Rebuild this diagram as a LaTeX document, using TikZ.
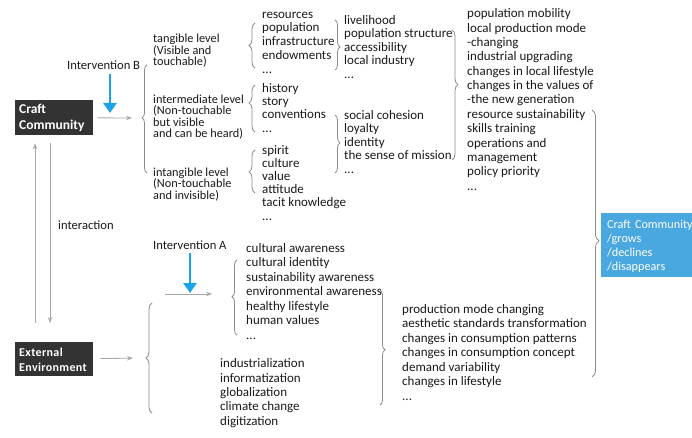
\documentclass[tikz,border=0pt]{standalone}
\usepackage{fontspec}
\setmainfont{Carlito}
\usetikzlibrary{arrows.meta,decorations.pathreplacing}
\definecolor{gline}{HTML}{A8A8A8}
\definecolor{gbrace}{HTML}{8C8C8C}
\definecolor{dbox}{HTML}{333333}
\definecolor{bluea}{HTML}{1AA3E6}
\definecolor{blueb}{HTML}{4AA8E0}
\definecolor{txt}{HTML}{1A1A1A}
\newcommand{\T}{\rule{0pt}{10pt}}
\newcommand{\LT}{\rule{0pt}{9pt}}
\begin{document}
\begin{tikzpicture}[x=1pt,y=-1pt,
  lst/.style={anchor=north west, inner sep=0pt, align=left, text=txt, font=\fontsize{13}{#1}\selectfont},
  lst/.default=14.4,
  lvl/.style={anchor=north west, inner sep=0pt, align=left, text=txt, font=\fontsize{12.3}{11.6}\selectfont},
  lbl/.style={anchor=base west, inner sep=0pt, text=txt, font=\fontsize{12.6}{14}\selectfont},
  dark/.style={anchor=north west, fill=dbox, text=white, align=left, text width=70pt, inner xsep=4pt, inner ysep=0pt, minimum height=35pt},
  bluebox/.style={anchor=north west, fill=blueb, text=white, align=left, text width=100pt, inner xsep=6pt, inner ysep=0pt, minimum height=64pt, font=\fontsize{12.2}{14}\selectfont},
  garr/.style={draw=gline, line width=0.8pt, -{Stealth[length=6pt,width=4.5pt,inset=2pt]}},
  barr/.style={draw=bluea, line width=2.6pt, -{Triangle[length=10pt,width=13pt]}},
  brc/.style={draw=gbrace, line width=0.8pt, decorate},
]
\fill[white] (0,0) rectangle (692,438);
\useasboundingbox (0,0) rectangle (692,438);

% main boxes
\node[dark, font=\fontsize{13.5}{15.5}\selectfont\bfseries] (cc) at (15,100) {\T Craft\\Community};
\node[dark, minimum height=34pt, font=\fontsize{12}{15}\selectfont\bfseries\addfontfeature{LetterSpace=3}] (ee) at (15,342) {\T External\\Environment};
\node[bluebox] (res) at (601,213) {\T Craft Community\\/grows\\/declines\\/disappears};

% labels
\node[lbl] (ib) at (67,70) {Intervention B};
\node[lbl] (ia) at (153,249) {Intervention A};
\node[lbl] (inter) at (58,229) {interaction};

% levels
\node[lvl] (tang) at (153,33.4) {\LT tangible level\\(Visible and\\touchable)};
\node[lvl] (interm) at (153,94) {\LT intermediate level\\(Non-touchable\\but visible\\and can be heard)};
\node[lvl] (intang) at (153,167) {\LT intangible level\\(Non-touchable\\and invisible)};

% lists
\node[lst=13.75] (l1) at (262,8) {\T resources\\population\\infrastructure\\endowments\\...};
\node[lst=13.4] (l2) at (262,82) {\T history\\story\\conventions\\...};
\node[lst=13.2] (l3) at (262,144) {\T spirit\\culture\\value\\attitude\\tacit knowledge\\...};
\node[lst=13.5] (r1) at (344,14) {\T livelihood\\population structure\\accessibility\\local industry\\...};
\node[lst=13.5] (r2) at (344,109) {\T social cohesion\\loyalty\\identity\\the sense of mission\\...};
\node[lst=14.38] (c1) at (467,7.5) {\T population mobility\\local production mode\\-changing\\industrial upgrading\\changes in local lifestyle\\changes in the values of\\-the new generation\\resource sustainability\\skills training\\operations and\\management\\policy priority\\...};
\node[lst=14.5] (d1) at (246,242) {\T cultural awareness\\cultural identity\\sustainability awareness\\environmental awareness\\healthy lifestyle\\human values\\...};
\node[lst=14.4] (e1) at (220,357.5) {\T industrialization\\informatization\\globalization\\climate change\\digitization};
\node[lst=14.5] (f1) at (402,303) {\T production mode changing\\aesthetic standards transformation\\changes in consumption patterns\\changes in consumption concept\\demand variability\\changes in lifestyle\\...};

% braces
\draw[brc, decoration={brace,amplitude=5pt,aspect=0.51}] (147,173) -- (147,65);
\draw[brc, decoration={brace,amplitude=6pt,aspect=0.5}] (255,68) -- (255,23);
\draw[brc, decoration={brace,amplitude=6pt,aspect=0.62}] (255,132) -- (255,85);
\draw[brc, decoration={brace,amplitude=6pt,aspect=0.49}] (255,193) -- (255,150);
\draw[brc, decoration={brace,amplitude=5pt,aspect=0.54}] (335,20) -- (335,70);
\draw[brc, decoration={brace,amplitude=5pt,aspect=0.48}] (335,115) -- (335,173);
\draw[brc, decoration={brace,amplitude=6pt,aspect=0.42}] (452,30) -- (452,160);
\draw[brc, decoration={brace,amplitude=7pt,aspect=0.49}] (592,110) -- (592,377);
\draw[brc, decoration={brace,amplitude=6pt,aspect=0.5}] (152,413) -- (152,303);
\draw[brc, decoration={brace,amplitude=5pt,aspect=0.51}] (237,335) -- (237,260);
\draw[brc, decoration={brace,amplitude=5pt,aspect=0.52}] (380,290) -- (380,405);

% connectors
\coordinate (b1tip) at (142,118);
\coordinate (b9tip) at (145,358);
\coordinate (ux) at (35,0);
\coordinate (dx) at (50,0);
\draw[garr, shorten <=4pt, shorten >=10pt] (cc) -- (b1tip);
\draw[garr, shorten <=7pt, shorten >=12pt] (ee) -- (b9tip);
\draw[garr, shorten <=19pt, shorten >=8pt] (ee.north -| ux) -- (cc.south -| ux);
\draw[garr, shorten <=8pt, shorten >=19pt] (cc.south -| dx) -- (ee.north -| dx);
\coordinate (as) at (165,294);
\coordinate (ae) at (212,294);
\draw[garr] (as) -- (ae);
\coordinate (bbt) at (110,74);
\coordinate (bbb) at (110,113);
\draw[barr] (bbt) -- (bbb);
\coordinate (bat) at (190,253);
\coordinate (bab) at (190,293);
\draw[barr] (bat) -- (bab);
\end{tikzpicture}
\end{document}
